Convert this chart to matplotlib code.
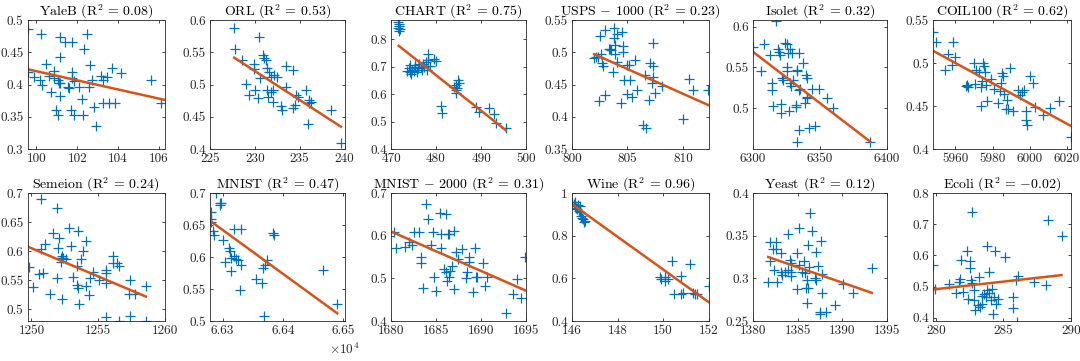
import numpy as np
import matplotlib
matplotlib.use('Agg')
import matplotlib.pyplot as plt
from matplotlib.ticker import FuncFormatter

plt.rcParams['font.family'] = 'serif'
plt.rcParams['font.serif'] = ['cmr10', 'DejaVu Serif']
plt.rcParams['mathtext.fontset'] = 'cm'
plt.rcParams['axes.formatter.use_mathtext'] = True
plt.rcParams['axes.unicode_minus'] = False

# ---- data ----
titles = ['YaleB', 'ORL', 'CHART', 'USPS $-$ 1000', 'Isolet', 'COIL100',
          'Semeion', 'MNIST', 'MNIST $-$ 2000', 'Wine', 'Yeast', 'Ecoli']
r2 = ['0.08', '0.53', '0.75', '0.23', '0.32', '0.62',
      '0.24', '0.47', '0.31', '0.96', '0.12', '$-$0.02']

yaleb_x = [99.6, 100.24, 101.17, 101.4, 101.76, 102.48, 102.32, 101.17, 100.48, 102.64,
           99.6, 99.9, 100.16, 100.27, 100.6, 100.85, 100.88, 101.04, 101.09, 101.17,
           100.7, 101.17, 101.57, 101.6, 101.76, 101.76, 101.84, 102.08, 102.24, 102.56,
           102.72, 100.96, 101.06, 101.68, 101.84, 102.29, 102.83, 102.91, 103.17, 103.28,
           103.47, 103.68, 104.16, 103.28, 103.57, 103.84, 105.6, 106.08]
yaleb_y = [0.4855, 0.479, 0.473, 0.466, 0.466, 0.479, 0.455, 0.443, 0.432, 0.430,
           0.420, 0.412, 0.407, 0.399, 0.413, 0.421, 0.410, 0.407, 0.403, 0.402,
           0.389, 0.382, 0.396, 0.394, 0.420, 0.410, 0.405, 0.396, 0.377, 0.396,
           0.407, 0.360, 0.353, 0.360, 0.353, 0.353, 0.365, 0.335, 0.413, 0.407,
           0.411, 0.425, 0.418, 0.371, 0.371, 0.371, 0.407, 0.371]

orl_x = [227.72, 227.76, 228.58, 229.03, 229.33, 229.9, 229.96, 230.07, 230.3, 230.45,
         230.6, 230.9, 231.0, 231.2, 231.4, 231.4, 231.5, 231.6, 231.75, 231.8,
         232.05, 232.1, 232.5, 232.05, 232.9, 233.06, 233.5, 233.43, 234.3, 234.3,
         234.45, 234.6, 234.85, 235.67, 235.9, 236.0, 236.0, 236.3, 238.5, 239.6]
orl_y = [0.587, 0.555, 0.538, 0.501, 0.484, 0.532, 0.524, 0.491, 0.479, 0.574,
         0.510, 0.546, 0.541, 0.538, 0.525, 0.491, 0.481, 0.520, 0.512, 0.488,
         0.492, 0.515, 0.511, 0.473, 0.467, 0.460, 0.529, 0.496, 0.522, 0.463,
         0.468, 0.484, 0.481, 0.491, 0.439, 0.476, 0.471, 0.473, 0.461, 0.409]

chart_x = [471.6, 471.7, 471.8, 471.6, 471.9, 471.7,
           473.6, 474.0, 474.2, 474.3, 474.5, 474.7, 475.1, 475.3, 475.4, 475.8,
           476.0, 476.3, 476.6, 476.9, 477.1, 477.4, 477.7, 478.0, 478.3, 478.2,
           478.6, 479.5, 479.9, 481.0, 481.4, 484.0, 484.4, 484.5, 484.7, 484.4,
           484.9, 485.1, 488.8, 489.6, 491.8, 492.9, 493.3, 495.5]
chart_y = [0.865, 0.857, 0.850, 0.843, 0.838, 0.832,
           0.686, 0.694, 0.706, 0.682, 0.673, 0.690, 0.686, 0.700, 0.706, 0.682,
           0.694, 0.710, 0.700, 0.688, 0.712, 0.700, 0.718, 0.688, 0.725, 0.746,
           0.703, 0.727, 0.722, 0.557, 0.530, 0.627, 0.633, 0.615, 0.621, 0.605,
           0.652, 0.640, 0.554, 0.536, 0.550, 0.527, 0.496, 0.475]

usps_x = [802.14, 801.99, 802.3, 802.5, 802.6, 802.4, 802.7, 802.75, 803.0, 803.0,
          803.3, 803.4, 803.5, 803.7, 803.8, 803.8, 803.9, 804.1, 804.1, 803.9,
          804.5, 804.6, 804.6, 804.4, 804.7, 805.0, 805.1, 805.2, 805.0, 805.4,
          805.7, 805.9, 806.6, 806.4, 806.7, 806.9, 807.0, 807.2, 807.3, 807.3,
          807.3, 807.5, 808.1, 810.0, 810.5, 810.9, 812.3]
usps_y = [0.493, 0.491, 0.492, 0.525, 0.498, 0.425, 0.483, 0.478, 0.534, 0.433,
          0.505, 0.505, 0.503, 0.470, 0.537, 0.522, 0.511, 0.529, 0.485, 0.498,
          0.532, 0.509, 0.501, 0.421, 0.457, 0.480, 0.480, 0.457, 0.436, 0.431,
          0.488, 0.441, 0.465, 0.387, 0.382, 0.426, 0.483, 0.452, 0.514, 0.478,
          0.462, 0.437, 0.447, 0.396, 0.458, 0.442, 0.442]

isolet_x = [6300, 6306, 6308, 6312.5, 6314, 6314, 6315, 6317.5, 6319, 6319.5,
            6320, 6321, 6321, 6322, 6322.5, 6324, 6325, 6325, 6325, 6326,
            6327.5, 6327.5, 6328, 6327, 6329, 6330, 6332, 6332, 6333, 6333,
            6334, 6334.5, 6333, 6334, 6335, 6337.5, 6339, 6339.5, 6340.5, 6340.5,
            6340, 6344, 6342, 6346, 6349, 6355, 6359.5, 6387.5]
isolet_y = [0.575, 0.545, 0.578, 0.565, 0.531, 0.522, 0.503, 0.607, 0.573, 0.569,
            0.565, 0.494, 0.505, 0.537, 0.535, 0.580, 0.578, 0.551, 0.545, 0.567,
            0.572, 0.531, 0.527, 0.496, 0.568, 0.535, 0.504, 0.502, 0.547, 0.545,
            0.522, 0.567, 0.459, 0.473, 0.524, 0.555, 0.506, 0.541, 0.537, 0.514,
            0.512, 0.524, 0.476, 0.478, 0.523, 0.512, 0.500, 0.459]

coil_x = [5948.2, 5949.5, 5954.5, 5956, 5958, 5959, 5959.6, 5965.5, 5966.4, 5967,
          5970, 5970.5, 5971, 5972.7, 5973.6, 5974, 5974.5, 5975, 5975.5, 5976,
          5976.4, 5977, 5979, 5981, 5983, 5984, 5984.5, 5985, 5985.5, 5986,
          5987, 5987.6, 5988.4, 5989.5, 5991, 5993.6, 5995, 5996, 5997, 5998,
          5998, 5998.5, 6000, 6001.5, 6002.7, 6007, 6011, 6015.5, 6022]
coil_y = [0.536, 0.525, 0.492, 0.510, 0.498, 0.525, 0.507, 0.473, 0.475, 0.472,
          0.500, 0.476, 0.492, 0.490, 0.450, 0.472, 0.479, 0.500, 0.497, 0.490,
          0.474, 0.456, 0.481, 0.470, 0.453, 0.467, 0.477, 0.488, 0.485, 0.464,
          0.447, 0.457, 0.446, 0.494, 0.444, 0.469, 0.463, 0.466, 0.469, 0.444,
          0.434, 0.428, 0.485, 0.477, 0.449, 0.440, 0.448, 0.456, 0.414]

semeion_x = [1249.8, 1250.1, 1250.7, 1250.7, 1250.6, 1250.9, 1251.0, 1251.4, 1251.6, 1251.9,
             1251.9, 1252.0, 1252.1, 1252.2, 1252.2, 1252.3, 1252.3, 1252.4, 1252.6, 1252.8,
             1253.0, 1253.1, 1253.4, 1253.5, 1253.4, 1253.5, 1253.6, 1253.7, 1253.9, 1254.1,
             1254.1, 1254.3, 1254.4, 1254.6, 1255.1, 1255.6, 1255.6, 1255.6, 1255.6, 1256.1,
             1256.1, 1256.4, 1256.6, 1256.6, 1257.4, 1257.3, 1257.4, 1257.8, 1258.6, 1258.6]
semeion_y = [0.573, 0.539, 0.690, 0.604, 0.560, 0.562, 0.613, 0.527, 0.631, 0.675,
             0.554, 0.606, 0.622, 0.588, 0.581, 0.591, 0.517, 0.588, 0.587, 0.639,
             0.609, 0.555, 0.574, 0.635, 0.542, 0.536, 0.510, 0.587, 0.600, 0.617,
             0.540, 0.525, 0.554, 0.565, 0.551, 0.567, 0.562, 0.546, 0.487, 0.592,
             0.580, 0.579, 0.575, 0.480, 0.551, 0.527, 0.488, 0.527, 0.540, 0.480]

mnist_x = [66280, 66280, 66281, 66284, 66285, 66289, 66295, 66296, 66297, 66300,
           66304, 66311, 66312, 66313, 66313, 66319, 66319, 66322, 66325, 66329,
           66330, 66331, 66355, 66366, 66368, 66367, 66371, 66374, 66384, 66385,
           66467, 66490]
mnist_y = [0.659, 0.654, 0.670, 0.641, 0.635, 0.700, 0.685, 0.682, 0.684, 0.626,
           0.592, 0.614, 0.609, 0.599, 0.578, 0.643, 0.601, 0.597, 0.596, 0.549,
           0.587, 0.643, 0.565, 0.559, 0.508, 0.583, 0.588, 0.596, 0.638, 0.635,
           0.579, 0.526]

mnist2k_x = [1680.3, 1680.6, 1681.5, 1682.0, 1682.3, 1682.5, 1683.1, 1683.3, 1683.3, 1683.6,
             1683.9, 1684.1, 1684.4, 1684.7, 1684.8, 1685.0, 1685.5, 1685.4, 1685.6, 1685.9,
             1686.1, 1686.1, 1686.2, 1686.3, 1686.4, 1686.4, 1686.6, 1686.8, 1687.0, 1687.0,
             1687.2, 1687.4, 1687.9, 1688.3, 1688.4, 1688.7, 1688.7, 1689.1, 1689.3, 1689.4,
             1689.6, 1690.2, 1690.4, 1690.7, 1693.6, 1694.0, 1694.4, 1692.8, 1694.9]
mnist2k_y = [0.609, 0.570, 0.574, 0.586, 0.578, 0.609, 0.609, 0.549, 0.537, 0.478,
             0.674, 0.640, 0.578, 0.608, 0.504, 0.470, 0.570, 0.653, 0.604, 0.523,
             0.651, 0.514, 0.494, 0.605, 0.604, 0.504, 0.518, 0.529, 0.612, 0.474,
             0.561, 0.545, 0.568, 0.500, 0.514, 0.550, 0.539, 0.467, 0.572, 0.504,
             0.504, 0.536, 0.482, 0.504, 0.463, 0.498, 0.455, 0.418, 0.549]

wine_x = [146.0, 146.07, 146.12, 146.15, 146.18, 146.22, 146.27, 146.3, 146.33, 146.37,
          146.41, 146.44, 146.47, 146.52, 146.56,
          149.85, 149.9, 150.1, 150.1, 150.2, 150.4, 150.5, 150.8, 150.8, 150.9,
          151.2, 151.3, 151.4, 151.5, 152.0]
wine_y = [0.956, 0.948, 0.959, 0.940, 0.932, 0.925, 0.944, 0.917, 0.937, 0.909,
          0.893, 0.885, 0.878, 0.862, 0.870,
          0.608, 0.596, 0.608, 0.588, 0.599, 0.682, 0.525, 0.611, 0.525, 0.530,
          0.666, 0.533, 0.525, 0.525, 0.564]

yeast_x = [1381.7, 1381.9, 1381.9, 1382.2, 1382.4, 1382.6, 1382.6, 1382.7, 1383.1, 1383.1,
           1383.2, 1383.6, 1383.9, 1383.9, 1384.1, 1384.2, 1384.3, 1384.2, 1384.9, 1384.9,
           1385.2, 1385.2, 1385.5, 1385.7, 1385.8, 1385.9, 1386.0, 1386.1, 1386.2, 1386.2,
           1386.3, 1386.4, 1386.6, 1386.9, 1387.0, 1387.1, 1387.3, 1387.6, 1387.7, 1387.7,
           1387.5, 1387.5, 1388.2, 1389.2, 1390.1, 1391.2, 1393.3]
yeast_y = [0.296, 0.343, 0.320, 0.334, 0.310, 0.342, 0.334, 0.296, 0.330, 0.308,
           0.304, 0.308, 0.352, 0.310, 0.322, 0.308, 0.318, 0.303, 0.330, 0.287,
           0.359, 0.316, 0.308, 0.320, 0.306, 0.289, 0.271, 0.298, 0.339, 0.289,
           0.313, 0.377, 0.356, 0.300, 0.331, 0.298, 0.314, 0.344, 0.305, 0.283,
           0.258, 0.261, 0.261, 0.269, 0.293, 0.283, 0.312]

ecoli_x = [279.8, 279.95, 281.0, 281.5, 281.75, 281.8, 281.9, 282.0, 282.3, 282.4,
           282.5, 282.5, 282.6, 282.65, 282.7, 282.8, 282.8, 282.9, 283.1, 283.2,
           283.25, 283.4, 283.45, 283.6, 283.7, 283.8, 283.8, 283.95, 283.95, 284.1,
           284.15, 284.25, 284.3, 284.4, 284.45, 284.6, 285.1, 285.7, 285.7, 285.9,
           286.0, 286.1, 287.3, 288.15, 288.3, 289.3]
ecoli_y = [0.570, 0.494, 0.508, 0.480, 0.516, 0.526, 0.586, 0.483, 0.613, 0.462,
           0.583, 0.559, 0.521, 0.512, 0.739, 0.456, 0.489, 0.424, 0.440, 0.532,
           0.435, 0.445, 0.469, 0.476, 0.467, 0.489, 0.631, 0.481, 0.548, 0.456,
           0.491, 0.411, 0.467, 0.613, 0.445, 0.462, 0.595, 0.467, 0.432, 0.521,
           0.386, 0.534, 0.516, 0.505, 0.714, 0.662]

# fitted line end points (x0, x1), (y0, y1)
fit_x = [(99.6, 106.3), (227.7, 239.6), (471.7, 495.5), (802.0, 812.3), (6300, 6387.5), (5948.2, 6022),
         (1249.8, 1258.6), (66280, 66490), (1680.2, 1695), (146.0, 152.0), (1381.7, 1393.3), (279.8, 289.3)]
fit_y = [(0.4235, 0.376), (0.5416, 0.4346), (0.777, 0.469), (0.497, 0.418), (0.569, 0.459), (0.514, 0.427),
         (0.607, 0.522), (0.656, 0.512), (0.608, 0.471), (0.948, 0.489), (0.325, 0.283), (0.491, 0.537)]

xlims = [(99.57, 106.27), (225, 240), (470, 500), (800, 812.3), (6300, 6400), (5948, 6022.2),
         (1249.7, 1260), (66279, 66502), (1680, 1695), (146, 152), (1380, 1395), (279.8, 290)]
ylims = [(0.3, 0.5), (0.4, 0.6), (0.4, 0.871), (0.35, 0.55), (0.45, 0.608), (0.4, 0.55),
         (0.48, 0.7), (0.5, 0.7), (0.4, 0.7), (0.4, 1.0), (0.25, 0.4), (0.39, 0.8)]
xticks = [[100, 102, 104, 106], [225, 230, 235, 240], [470, 480, 490, 500], [800, 805, 810],
          [6300, 6350, 6400], [5960, 5980, 6000, 6020], [1250, 1255, 1260], [66300, 66400, 66500],
          [1680, 1685, 1690, 1695], [146, 148, 150, 152], [1380, 1385, 1390, 1395], [280, 285, 290]]
yticks = [[0.3, 0.35, 0.4, 0.45, 0.5], [0.4, 0.45, 0.5, 0.55, 0.6], [0.4, 0.5, 0.6, 0.7, 0.8],
          [0.35, 0.4, 0.45, 0.5, 0.55], [0.5, 0.55, 0.6], [0.4, 0.45, 0.5, 0.55],
          [0.5, 0.55, 0.6, 0.65, 0.7], [0.5, 0.55, 0.6, 0.65, 0.7], [0.4, 0.5, 0.6, 0.7],
          [0.4, 0.6, 0.8, 1.0], [0.25, 0.3, 0.35, 0.4], [0.4, 0.5, 0.6, 0.7, 0.8]]

xs = [yaleb_x, orl_x, chart_x, usps_x, isolet_x, coil_x,
      semeion_x, mnist_x, mnist2k_x, wine_x, yeast_x, ecoli_x]
ys = [yaleb_y, orl_y, chart_y, usps_y, isolet_y, coil_y,
      semeion_y, mnist_y, mnist2k_y, wine_y, yeast_y, ecoli_y]

# axes layout in pixels (left, width) per column, (top, bottom) per row
W, H = 1080, 361
col_left = [27.5, 210, 391, 572, 753, 933]
col_w = [137, 134.5, 135, 136.5, 134, 138]
row_tb = [(20, 149), (193, 321)]

blue = '#0072BD'
orange = '#D95319'
dark = '#262626'

fig = plt.figure(figsize=(W / 100, H / 100), dpi=100)

for i in range(12):
    r, c = divmod(i, 6)
    top, bot = row_tb[r]
    ax = fig.add_axes([col_left[c] / W, 1 - bot / H, col_w[c] / W, (bot - top) / H])
    ax.plot(xs[i], ys[i], linestyle='none', marker='+', color=blue,
            markersize=7, markeredgewidth=0.9)
    ax.plot(fit_x[i], fit_y[i], color=orange, linewidth=1.8)
    ax.set_xlim(*xlims[i])
    ax.set_ylim(*ylims[i])
    ax.set_xticks(xticks[i])
    ax.set_yticks(yticks[i])
    if i == 7:
        ax.xaxis.set_major_formatter(FuncFormatter(lambda v, p: '%.2f' % (v / 1e4)))
        ax.text(1.0, -0.22, r'$\times10^4$', transform=ax.transAxes, ha='center', va='center',
                fontsize=9.5, color=dark)
    else:
        ax.xaxis.set_major_formatter(FuncFormatter(lambda v, p: '%g' % v))
    ax.yaxis.set_major_formatter(FuncFormatter(lambda v, p: '%g' % v))
    ax.tick_params(direction='in', top=True, right=True, length=2.5, width=0.6,
                   labelsize=9.5, colors=dark, pad=3)
    for s in ax.spines.values():
        s.set_color(dark)
        s.set_linewidth(0.6)
    ax.set_title('%s (R$^2$ = %s)' % (titles[i], r2[i]), fontsize=10, pad=3, color='k')

fig.savefig('out.png', dpi=100)
